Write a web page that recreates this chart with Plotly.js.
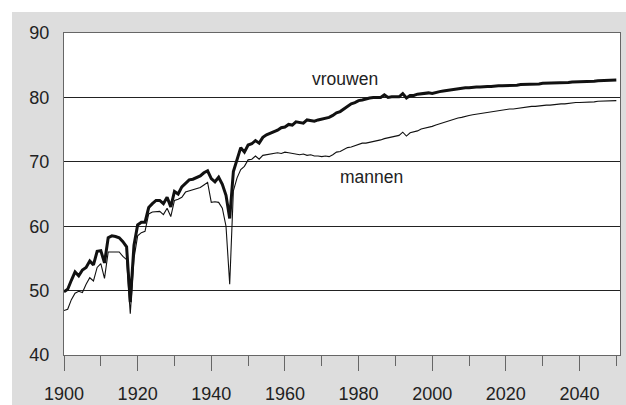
<!DOCTYPE html>
<html>
<head>
<meta charset="utf-8">
<script src="https://cdn.plot.ly/plotly-3.0.1.min.js"></script>
<style>
  html, body { margin: 0; padding: 0; background: #ffffff; }
  #chart { position: absolute; left: 12px; top: 12px; width: 614px; height: 393px; }
</style>
</head>
<body>
<div id="chart"></div>
<script>
const years = [];
for (let y = 1900; y <= 2050; y++) years.push(y);

const vrouwen = [
  49.8, 50.2, 51.6, 52.9, 52.3, 53.2, 53.6, 54.6, 54.0, 56.1,
  56.2, 54.3, 58.2, 58.5, 58.4, 58.2, 57.6, 56.8, 48.2, 57.0,
  60.2, 60.6, 60.6, 62.9, 63.5, 64.0, 64.0, 63.5, 64.5, 63.0,
  65.4, 65.0, 66.1, 66.6, 67.2, 67.3, 67.5, 67.8, 68.3, 68.6,
  67.4, 66.9, 67.6, 66.5, 64.8, 61.2, 68.5, 70.4, 72.2, 71.5,
  72.6, 72.8, 73.3, 72.9, 73.8, 74.2, 74.4, 74.6, 74.9, 75.3,
  75.4, 75.8, 75.7, 76.2, 76.1, 76.0, 76.5, 76.4, 76.3, 76.5,
  76.6, 76.8, 76.9, 77.2, 77.6, 77.8, 78.2, 78.6, 79.0, 79.2,
  79.5, 79.6, 79.8, 79.9, 80.0, 80.0, 80.0, 80.4, 80.0, 80.1,
  80.1, 80.1, 80.6, 79.9, 80.3, 80.3, 80.5, 80.6, 80.6, 80.7,
  80.6, 80.8, 80.9, 81.0, 81.1, 81.2, 81.3, 81.4, 81.4, 81.5,
  81.5, 81.6, 81.6, 81.6, 81.7, 81.7, 81.7, 81.8, 81.8, 81.8,
  81.8, 81.9, 81.9, 81.9, 82.0, 82.0, 82.0, 82.1, 82.1, 82.1,
  82.2, 82.2, 82.2, 82.2, 82.3, 82.3, 82.3, 82.3, 82.4, 82.4,
  82.4, 82.5, 82.5, 82.5, 82.5, 82.6, 82.6, 82.6, 82.7, 82.7,
  82.7
];

const mannen = [
  46.9, 47.1, 48.6, 49.6, 49.9, 49.7, 51.0, 52.0, 51.5, 53.6,
  54.2, 51.9, 56.0, 56.0, 56.0, 56.0, 55.3, 54.8, 46.4, 55.0,
  58.5, 59.0, 59.2, 61.9, 62.2, 62.3, 62.3, 61.8, 62.8, 61.5,
  64.0, 64.2, 64.5, 65.3, 65.5, 65.7, 65.8, 66.0, 66.4, 66.8,
  63.7, 63.8, 63.7, 62.8, 60.0, 51.0, 65.5, 67.5, 68.8, 69.3,
  70.3, 70.4, 70.9, 70.4, 71.0, 71.1, 71.1, 71.3, 71.4, 71.3,
  71.5, 71.4, 71.3, 71.3, 71.1, 71.2, 71.0, 71.1, 70.9, 70.9,
  70.8, 70.9, 70.8, 71.1, 71.5, 71.6, 71.9, 72.2, 72.3, 72.5,
  72.6, 72.9, 72.9, 73.0, 73.2, 73.3, 73.4, 73.6, 73.7, 73.8,
  73.9, 74.1, 74.6, 74.0, 74.5, 74.6, 74.8, 75.1, 75.2, 75.4,
  75.5, 75.7, 75.9, 76.1, 76.3, 76.5, 76.7, 76.8, 76.9, 77.1,
  77.2, 77.3, 77.4, 77.5, 77.6, 77.7, 77.8, 77.8, 77.9, 78.0,
  78.1, 78.2, 78.2, 78.3, 78.4, 78.4, 78.5, 78.6, 78.6, 78.7,
  78.7, 78.8, 78.8, 78.9, 78.9, 79.0, 79.0, 79.1, 79.1, 79.2,
  79.2, 79.2, 79.3, 79.3, 79.3, 79.4, 79.4, 79.4, 79.5, 79.5,
  79.5
];

const xTicks = [1900, 1920, 1940, 1960, 1980, 2000, 2020, 2040];
const yTicks = [40, 50, 60, 70, 80, 90];
const seriesLabels = ["vrouwen", "mannen"];

const tickFont = { family: "Liberation Sans, Arial, sans-serif", size: 18, color: "#222222" };
const annFont = { family: "Liberation Sans, Arial, sans-serif", size: 17.5, color: "#222222" };

const traces = [
  { x: years, y: mannen, type: "scatter", mode: "lines", name: seriesLabels[1],
    line: { color: "#111111", width: 1.1 }, hoverinfo: "skip" },
  { x: years, y: vrouwen, type: "scatter", mode: "lines", name: seriesLabels[0],
    line: { color: "#111111", width: 3 }, hoverinfo: "skip" }
];

const layout = {
  width: 614, height: 393,
  margin: { l: 52, r: 6, t: 21, b: 50 },
  paper_bgcolor: "#dddddd",
  plot_bgcolor: "#ffffff",
  showlegend: false,
  font: tickFont,
  xaxis: {
    range: [1900, 2051],
    tickvals: xTicks,
    ticks: "outside", ticklen: 15, tickwidth: 1, tickcolor: "#666666",
    minor: { dtick: 10, tick0: 1900, ticks: "outside", ticklen: 10, tickwidth: 1, tickcolor: "#666666", showgrid: false },
    showgrid: false, zeroline: false,
    showline: true, linecolor: "#666666", linewidth: 1, mirror: true,
    ticklabelstandoff: 7,
    tickfont: tickFont
  },
  yaxis: {
    range: [40, 90],
    tickvals: yTicks,
    ticks: "", showgrid: true, gridcolor: "#222222", gridwidth: 1,
    zeroline: false,
    showline: true, linecolor: "#666666", linewidth: 1, mirror: true,
    ticklabelstandoff: 10,
    tickfont: tickFont
  },
  annotations: [
    { x: 1976.4, y: 82.9, xref: "x", yref: "y", text: seriesLabels[0], showarrow: false,
      font: annFont, xanchor: "center", yanchor: "middle" },
    { x: 1983.5, y: 67.7, xref: "x", yref: "y", text: seriesLabels[1], showarrow: false,
      font: annFont, xanchor: "center", yanchor: "middle" }
  ]
};

Plotly.newPlot("chart", traces, layout, { displayModeBar: false, staticPlot: true });
</script>
</body>
</html>
